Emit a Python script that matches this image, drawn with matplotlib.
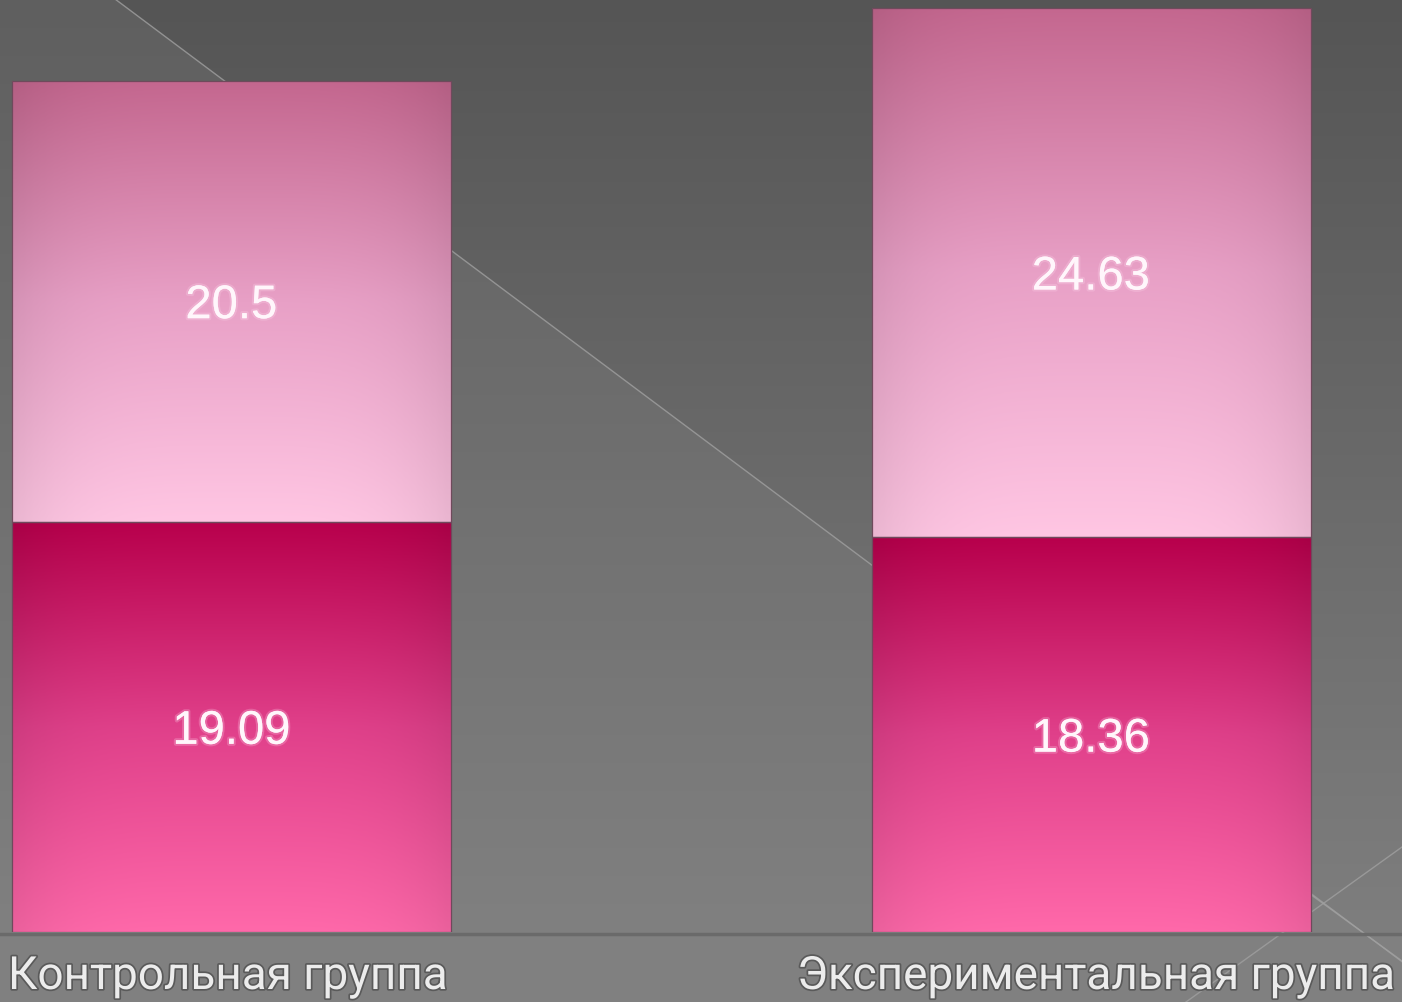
import matplotlib.pyplot as plt
import matplotlib.patheffects as pe
import numpy as np
from matplotlib.colors import LinearSegmentedColormap

# data
groups = ["Контрольная группа", "Экспериментальная группа"]
lower_vals = [19.09, 18.36]
upper_vals = [20.5, 24.63]

W, H = 1402, 1003
AXIS_Y = 933  # pixel row of the zero line

fig = plt.figure(figsize=(W / 100, H / 100), dpi=100)

# background: vertical grey gradient with a lighter lower-left wedge
bg_ax = fig.add_axes([0, 0, 1, 1])
bg_ax.set_xlim(0, W)
bg_ax.set_ylim(H, 0)
bg_ax.axis("off")

yy, xx = np.mgrid[0:H, 0:W]
t = np.clip(yy / AXIS_Y, 0, 1)
base = 0x55 + (0x7e - 0x55) * t
wedge = yy > 0.748 * (xx - 115)
base = base + np.where(wedge, 8 * (1 - t) + 2, 0)
base[yy > AXIS_Y] = 0x80
bg = np.dstack([base, base, base]) / 255.0
bg_ax.imshow(bg, extent=(0, W, H, 0), aspect="auto", zorder=0)

line_kw = dict(color="#a0a0a0", lw=1.0, alpha=0.8, zorder=1)
bg_ax.plot([115, 1402], [0, 0.748 * (1402 - 115)], **line_kw)
bg_ax.plot([1186, 1402], [1003, 848], **line_kw)
bg_ax.plot([1310, 1402], [895, 962], **line_kw)
bg_ax.plot([0, W], [AXIS_Y + 2, AXIS_Y + 2], color="#6a6a6a", lw=2.5, zorder=1)

# main axes
ppu = 21.5  # pixels per unit
ax = fig.add_axes([0, (H - AXIS_Y) / H, 1, AXIS_Y / H])
ax.patch.set_alpha(0)
ax.set_ylim(0, AXIS_Y / ppu)
spacing = 859.5
x_pos = np.arange(len(groups))
ax.set_xlim(-231.5 / spacing, (W - 231.5) / spacing)
ax.axis("off")

upper_cmap = LinearSegmentedColormap.from_list("up", ["#ffc6e3", "#e8a0c6", "#c4678f"])
lower_cmap = LinearSegmentedColormap.from_list("lo", ["#ff69aa", "#e0408a", "#b8004c"])

bar_w = 439 / spacing
low_bars = ax.bar(x_pos, lower_vals, width=bar_w, color="none", edgecolor="#6f4a5c", lw=0.9, zorder=3)
up_bars = ax.bar(x_pos, upper_vals, width=bar_w, bottom=lower_vals, color="none",
                 edgecolor="#6f4a5c", lw=0.9, zorder=3)

grad = np.linspace(0, 1, 256).reshape(-1, 1)
edge = np.linspace(-1, 1, 64)
shade = 1 - 0.08 * edge ** 4
for bars, cmap in ((low_bars, lower_cmap), (up_bars, upper_cmap)):
    for bar in bars:
        x0, y0 = bar.get_x(), bar.get_y()
        w, h = bar.get_width(), bar.get_height()
        rgb = cmap(grad)[:, :, :3] * np.ones((1, 64, 1))
        rgb = rgb * shade[None, :, None]
        im = ax.imshow(rgb, extent=(x0, x0 + w, y0, y0 + h), origin="lower",
                       aspect="auto", zorder=2)
        im.set_clip_path(bar)

label_fx = [pe.withStroke(linewidth=3, foreground=(1, 0.85, 0.93, 0.25))]
for bars, vals in ((low_bars, lower_vals), (up_bars, upper_vals)):
    for bar, v in zip(bars, vals):
        ax.text(bar.get_x() + bar.get_width() / 2, bar.get_y() + bar.get_height() / 2,
                f"{v:g}", ha="center", va="center_baseline", fontsize=34, color="#fff6fb",
                family=["Liberation Sans", "DejaVu Sans"], zorder=4, path_effects=label_fx)

cat_fx = [pe.withStroke(linewidth=2.5, foreground="#5a5a5a")]
cat_font = ["Roboto", "Liberation Sans"]
fig.text(8 / W, 13 / H, groups[0], ha="left", va="baseline", fontsize=33,
         color="#ececec", family=cat_font, path_effects=cat_fx)
fig.text(1396 / W, 13 / H, groups[1], ha="right", va="baseline", fontsize=33,
         color="#ececec", family=cat_font, path_effects=cat_fx)

fig.savefig("out.png", dpi=100)
